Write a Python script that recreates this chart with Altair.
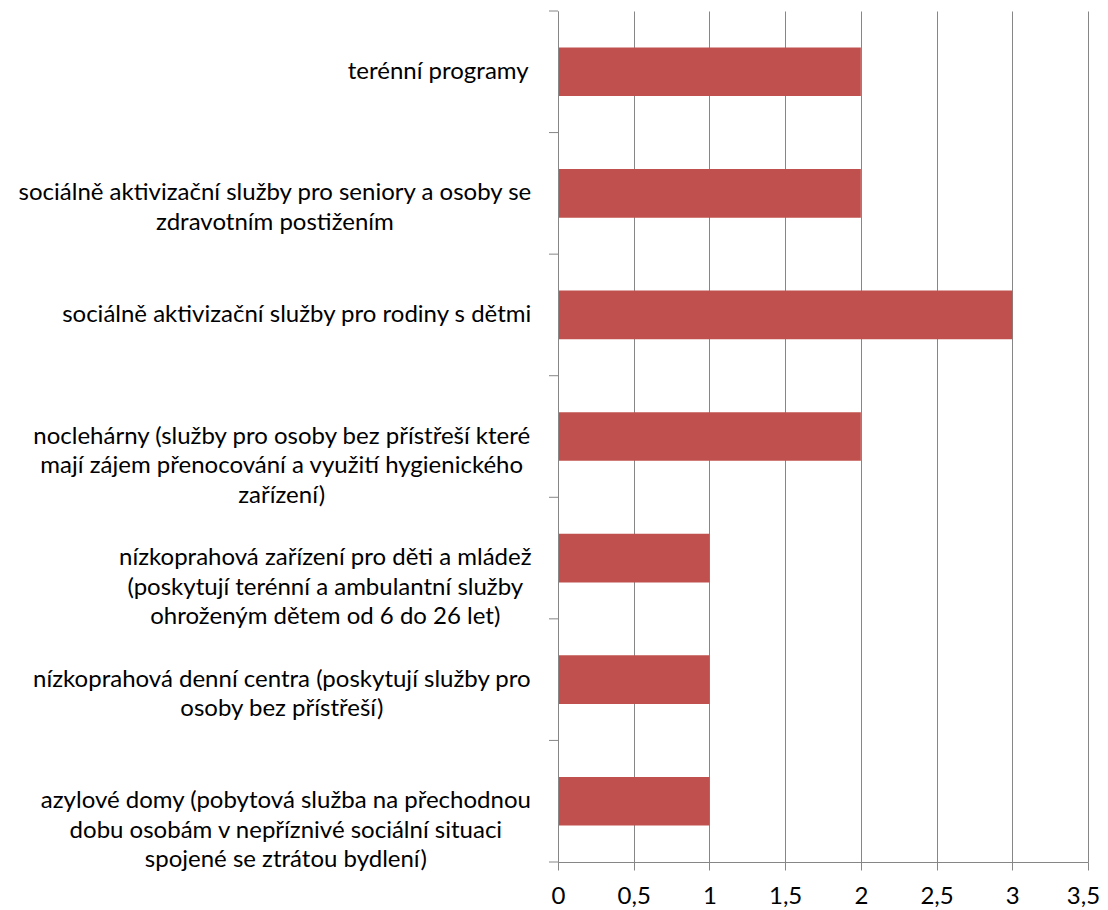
import glob
import json
import struct

import altair as alt
import pandas as pd

# ---------------- data ----------------
labels = [
    ["terénní programy "],
    ["sociálně aktivizační služby pro seniory a osoby se", "zdravotním postižením"],
    ["sociálně aktivizační služby pro rodiny s dětmi"],
    ["noclehárny (služby pro osoby bez přístřeší které",
     "mají zájem přenocování a využití hygienického", "zařízení)"],
    ["nízkoprahová zařízení pro děti a mládež",
     "(poskytují terénní a ambulantní služby", "ohroženým dětem od 6 do 26 let)"],
    ["nízkoprahová denní centra (poskytují služby pro", "osoby bez přístřeší)"],
    ["azylové domy (pobytová služba na přechodnou",
     "dobu osobám v nepříznivé sociální situaci", "spojené se ztrátou bydlení)"],
]
values = [2, 2, 3, 2, 1, 1, 1]
x_ticks = [0, 0.5, 1, 1.5, 2, 2.5, 3, 3.5]

# ---------------- style ----------------
FONT = "Lato"
FONT_SIZE = 24
LINE_HEIGHT = 29.5
BAR_COLOR = "#C0504D"
GRAY = "#868686"
LABEL_GAP = 26


# ------------- text measuring (for centred multi-line labels) -------------
def font_advance_fn(path):
    with open(path, "rb") as f:
        data = f.read()
    n_tables = struct.unpack(">H", data[4:6])[0]
    tables = {}
    for i in range(n_tables):
        tag, _, off, _ln = struct.unpack(">4sIII", data[12 + 16 * i: 28 + 16 * i])
        tables[tag.decode("latin-1")] = off
    head = tables["head"]
    upem = struct.unpack(">H", data[head + 18: head + 20])[0]
    hhea = tables["hhea"]
    n_hm = struct.unpack(">H", data[hhea + 34: hhea + 36])[0]
    hmtx = tables["hmtx"]
    adv = [struct.unpack(">H", data[hmtx + 4 * i: hmtx + 4 * i + 2])[0] for i in range(n_hm)]
    cmap = tables["cmap"]
    n_sub = struct.unpack(">H", data[cmap + 2: cmap + 4])[0]
    sub = None
    for i in range(n_sub):
        pid, eid, off = struct.unpack(">HHI", data[cmap + 4 + 8 * i: cmap + 12 + 8 * i])
        fmt = struct.unpack(">H", data[cmap + off: cmap + off + 2])[0]
        if fmt == 4 and (sub is None or (pid == 3 and eid == 1)):
            sub = cmap + off
    seg2 = struct.unpack(">H", data[sub + 6: sub + 8])[0]
    segs = seg2 // 2
    ends = struct.unpack(">%dH" % segs, data[sub + 14: sub + 14 + seg2])
    starts = struct.unpack(">%dH" % segs, data[sub + 16 + seg2: sub + 16 + 2 * seg2])
    deltas = struct.unpack(">%dh" % segs, data[sub + 16 + 2 * seg2: sub + 16 + 3 * seg2])
    rpos = sub + 16 + 3 * seg2
    roffs = struct.unpack(">%dH" % segs, data[rpos: rpos + seg2])

    def gid(c):
        for i in range(segs):
            if starts[i] <= c <= ends[i]:
                if roffs[i] == 0:
                    return (c + deltas[i]) & 0xFFFF
                addr = rpos + 2 * i + roffs[i] + 2 * (c - starts[i])
                g = struct.unpack(">H", data[addr: addr + 2])[0]
                return (g + deltas[i]) & 0xFFFF if g else 0
        return 0

    def width(text, size):
        total = 0
        for ch in text:
            g = gid(ord(ch))
            total += adv[min(g, n_hm - 1)]
        return total / upem * size

    return width


measure = None
cands = sorted(glob.glob("/usr/share/fonts/**/Lato-Regular.*", recursive=True)) + \
    sorted(glob.glob("/usr/share/fonts/**/Lato*Regular*", recursive=True))
for p in cands:
    try:
        measure = font_advance_fn(p)
        break
    except Exception:
        continue
if measure is None:
    def measure(text, size):
        return len(text) * 0.45 * size

keys = ["|".join(lines) for lines in labels]
widths = [max(measure(l, FONT_SIZE) for l in lines) for lines in labels]

# centre every line of a label block, with the block right-aligned next to the axis
pad_conditions = [
    {"test": "datum.value === " + json.dumps(k, ensure_ascii=False), "value": LABEL_GAP + w / 2}
    for k, w in zip(keys, widths)
]

df = pd.DataFrame({"category": keys, "value": values})
bounds = pd.DataFrame({"b": list(range(len(keys) + 1))})

bars = alt.Chart(df).mark_bar(color=BAR_COLOR).encode(
    x=alt.X(
        "value:Q",
        scale=alt.Scale(domain=[x_ticks[0], x_ticks[-1]], nice=False, zero=True),
        axis=alt.Axis(
            values=x_ticks,
            format="~g",
            labelExpr="replace(datum.label, '.', ',')",
            title=None,
            grid=True,
            gridColor=GRAY,
            gridWidth=1,
            domainColor=GRAY,
            tickColor=GRAY,
            tickSize=8,
            labelFont=FONT,
            labelFontSize=FONT_SIZE,
            labelColor="black",
            labelPadding=14,
            labelFlush=False,
            labelOverlap=False,
            # keep the last label inside the page
            labelOffset={"condition": {"test": f"datum.value === {x_ticks[-1]}", "value": -5}, "value": 0},
        ),
    ),
    y=alt.Y(
        "category:N",
        sort=keys,
        scale=alt.Scale(paddingInner=0.6, paddingOuter=0.3),
        axis=alt.Axis(
            title=None,
            ticks=False,
            domain=True,
            domainColor=GRAY,
            grid=False,
            labelExpr="split(datum.value, '|')",
            labelAlign="center",
            labelBaseline="middle",
            labelPadding={"condition": pad_conditions, "value": LABEL_GAP},
            labelFont=FONT,
            labelFontSize=FONT_SIZE,
            labelLineHeight=LINE_HEIGHT,
            labelColor="black",
            labelLimit=2000,
            zindex=1,
        ),
    ),
)

# category-axis tick marks between the categories (Excel style)
ticks = alt.Chart(bounds).mark_rule(color=GRAY).encode(
    y=alt.Y("b:Q", scale=alt.Scale(domain=[0, len(keys)], reverse=True, nice=False, zero=False), axis=None),
    x=alt.value(-9),
    x2=alt.value(0),
)

chart = (
    alt.layer(bars, ticks)
    .resolve_scale(y="independent")
    .properties(
        width=530,
        height=851,
        autosize=alt.AutoSizeParams(type="none"),
        padding={"left": 550, "top": 3, "right": 12, "bottom": 48},
    )
    .configure_view(stroke=None)
)

chart.save("out.html", embed_options={"renderer": "svg", "actions": False})
